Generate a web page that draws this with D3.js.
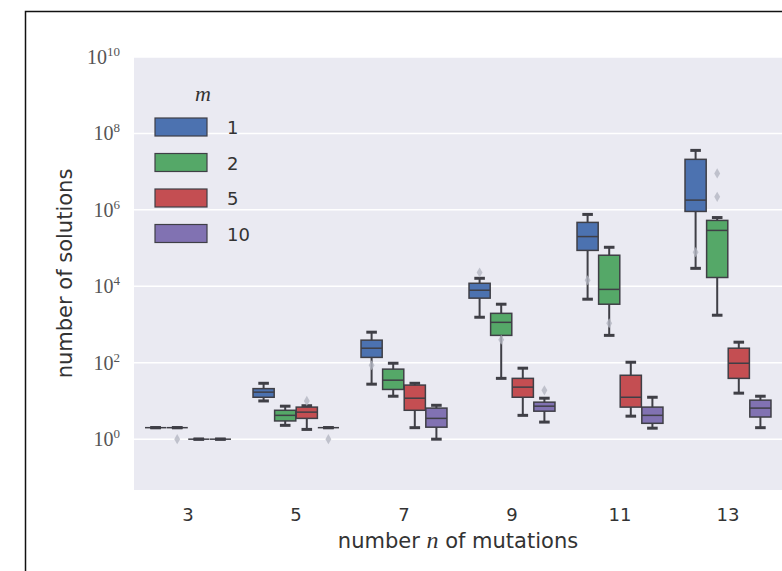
<!DOCTYPE html>
<html>
<head>
<meta charset="utf-8">
<script src="https://cdn.jsdelivr.net/npm/d3@7"></script>
<style>
  body { margin: 0; background: #fff; }
  .tick-x { font-family: "DejaVu Sans", sans-serif; font-size: 18px; fill: #333; }
  .tick-y { font-family: "Liberation Serif", serif; font-size: 20px; fill: #555; }
  .label { font-family: "DejaVu Sans", sans-serif; font-size: 21px; fill: #333; }
  .leg { font-family: "DejaVu Sans", sans-serif; font-size: 18px; fill: #333; }
</style>
</head>
<body>
<svg width="782" height="571"></svg>
<script>
// categorias y series
const nValues = [3, 5, 7, 9, 11, 13];
const mValues = [1, 2, 5, 10];
const colors = ["#4C72B0", "#55A868", "#C44E52", "#8172B2"];
const yTickExp = [0, 2, 4, 6, 8, 10];

// [bigote inf, q1, mediana, q3, bigote sup] por cada n
const statsM1 = [
  [2, 2, 2, 2, 2],
  [10, 12.5, 17, 21, 29],
  [27.5, 138, 240, 390, 630],
  [1550, 4900, 7900, 12000, 16200],
  [4600, 87000, 200000, 470000, 760000],
  [29500, 910000, 1800000, 21000000, 36000000]
];
const statsM2 = [
  [2, 2, 2, 2, 2],
  [2.3, 3, 4.2, 5.7, 7.3],
  [13.3, 20, 35, 68, 97],
  [39, 520, 1140, 1960, 3400],
  [520, 3400, 8300, 65000, 105000],
  [1750, 17000, 290000, 530000, 630000]
];
const statsM5 = [
  [1, 1, 1, 1, 1],
  [1.8, 3.5, 5.1, 6.9, 7.5],
  [2, 5.7, 11.8, 26, 29],
  [4.2, 12.5, 23, 39, 72],
  [4, 6.9, 12.5, 47, 103],
  [16, 39, 97, 240, 345]
];
const statsM10 = [
  [1, 1, 1, 1, 1],
  [2, 2, 2, 2, 2],
  [1, 2.06, 3.5, 6.5, 7.7],
  [2.8, 5.4, 7.3, 9.3, 11.8],
  [1.94, 2.6, 4.2, 6.9, 12.5],
  [2, 3.8, 6.5, 10.5, 13.3]
];
const allStats = [statsM1, statsM2, statsM5, statsM10];

// valores atipicos: [n, m, valor]
const fliers = [
  [3, 2, 1],
  [5, 5, 10],
  [5, 10, 1],
  [7, 1, 86],
  [9, 1, 23000],
  [9, 2, 400],
  [9, 10, 19],
  [11, 1, 14400],
  [11, 2, 1080],
  [13, 1, 78000],
  [13, 2, 9000000],
  [13, 2, 2200000]
];

const svg = d3.select("svg");
const margin = {top: 57, right: 0, bottom: 81, left: 134};
const width = 782 - margin.left - margin.right,
      height = 571 - margin.top - margin.bottom;

// marco negro de la figura
svg.append("rect")
  .attr("x", 25.5).attr("y", 11.5)
  .attr("width", 800).attr("height", 600)
  .attr("fill", "none").attr("stroke", "#111").attr("stroke-width", 1.5);

const g = svg.append("g")
  .attr("transform", `translate(${margin.left},${margin.top})`);

const x = d3.scaleBand().domain(nValues).range([0, width]);
const xHue = d3.scaleBand().domain(mValues).range([x.bandwidth() * 0.1, x.bandwidth() * 0.9]);
const y = d3.scaleLog().domain([Math.pow(10, -1.33), 1e10]).range([height, 0]);

// fondo y rejilla
g.append("rect").attr("width", width).attr("height", height).attr("fill", "#EAEAF2");
g.selectAll(".grid")
  .data(yTickExp)
  .enter().append("line")
  .attr("x1", 0).attr("x2", width)
  .attr("y1", d => y(Math.pow(10, d))).attr("y2", d => y(Math.pow(10, d)))
  .attr("stroke", "#fff").attr("stroke-width", 1.5);

// etiquetas eje Y (10^k)
const yLab = g.selectAll(".tick-y")
  .data(yTickExp)
  .enter().append("text")
  .attr("class", "tick-y")
  .attr("x", -14)
  .attr("y", d => y(Math.pow(10, d)) + 7)
  .attr("text-anchor", "end");
yLab.append("tspan").text("10");
yLab.append("tspan").attr("dy", -8).attr("font-size", 13).text(d => d);

// etiquetas eje X
g.selectAll(".tick-x")
  .data(nValues)
  .enter().append("text")
  .attr("class", "tick-x")
  .attr("x", d => x(d) + x.bandwidth() / 2)
  .attr("y", height + 31)
  .attr("text-anchor", "middle")
  .text(d => d);

// cajas
const lineColor = "#3f3f46";
const boxW = xHue.bandwidth() * 0.98;
const capW = boxW * 0.5;

const boxes = [];
allStats.forEach((s, i) => {
  s.forEach((v, j) => boxes.push({n: nValues[j], m: mValues[i], c: colors[i], v: v}));
});

const bg = g.selectAll(".box")
  .data(boxes)
  .enter().append("g")
  .attr("class", "box")
  .attr("transform", d => `translate(${x(d.n) + xHue(d.m) + xHue.bandwidth() / 2},0)`);

// bigotes
bg.append("line")
  .attr("x1", 0).attr("x2", 0)
  .attr("y1", d => y(d.v[0])).attr("y2", d => y(d.v[4]))
  .attr("stroke", lineColor).attr("stroke-width", 2);

// topes
bg.selectAll(".cap")
  .data(d => [d.v[0], d.v[4]])
  .enter().append("line")
  .attr("x1", -capW / 2).attr("x2", capW / 2)
  .attr("y1", d => y(d)).attr("y2", d => y(d))
  .attr("stroke", lineColor).attr("stroke-width", 3);

bg.append("rect")
  .attr("x", -boxW / 2).attr("width", boxW)
  .attr("y", d => y(d.v[3]))
  .attr("height", d => y(d.v[1]) - y(d.v[3]))
  .attr("fill", d => d.c)
  .attr("stroke", lineColor).attr("stroke-width", 1.5);

// mediana
bg.append("line")
  .attr("x1", -boxW / 2).attr("x2", boxW / 2)
  .attr("y1", d => y(d.v[2])).attr("y2", d => y(d.v[2]))
  .attr("stroke", lineColor).attr("stroke-width", 1.5);

// atipicos (diamantes)
g.selectAll(".flier")
  .data(fliers)
  .enter().append("path")
  .attr("class", "flier")
  .attr("d", d3.symbol(d3.symbolDiamond, 30))
  .attr("transform", d => `translate(${x(d[0]) + xHue(d[1]) + xHue.bandwidth() / 2},${y(d[2])})`)
  .attr("fill", "#b4b6c2").attr("opacity", 0.8);

// leyenda
const leg = g.append("g").attr("transform", "translate(21,0)");
leg.append("text")
  .attr("x", 48).attr("y", 44)
  .attr("text-anchor", "middle")
  .attr("font-family", "Liberation Serif, serif")
  .attr("font-style", "italic")
  .attr("font-size", 22).attr("fill", "#333")
  .text("m");
const rows = leg.selectAll(".row")
  .data(mValues)
  .enter().append("g")
  .attr("transform", (d, i) => `translate(0,${61 + i * 35.5})`);
rows.append("rect")
  .attr("width", 52).attr("height", 18)
  .attr("fill", (d, i) => colors[i])
  .attr("stroke", lineColor).attr("stroke-width", 1.2);
rows.append("text")
  .attr("class", "leg")
  .attr("x", 72).attr("y", 16)
  .text(d => d);

// titulos de ejes
const xl = svg.append("text")
  .attr("class", "label")
  .attr("x", margin.left + width / 2)
  .attr("y", 548)
  .attr("text-anchor", "middle");
xl.append("tspan").text("number ");
xl.append("tspan").attr("font-family", "Liberation Serif, serif").attr("font-style", "italic").attr("font-size", 24).text("n");
xl.append("tspan").text(" of mutations");

svg.append("text")
  .attr("class", "label")
  .attr("transform", `translate(72,${margin.top + height / 2}) rotate(-90)`)
  .attr("text-anchor", "middle")
  .text("number of solutions");
</script>
</body>
</html>
